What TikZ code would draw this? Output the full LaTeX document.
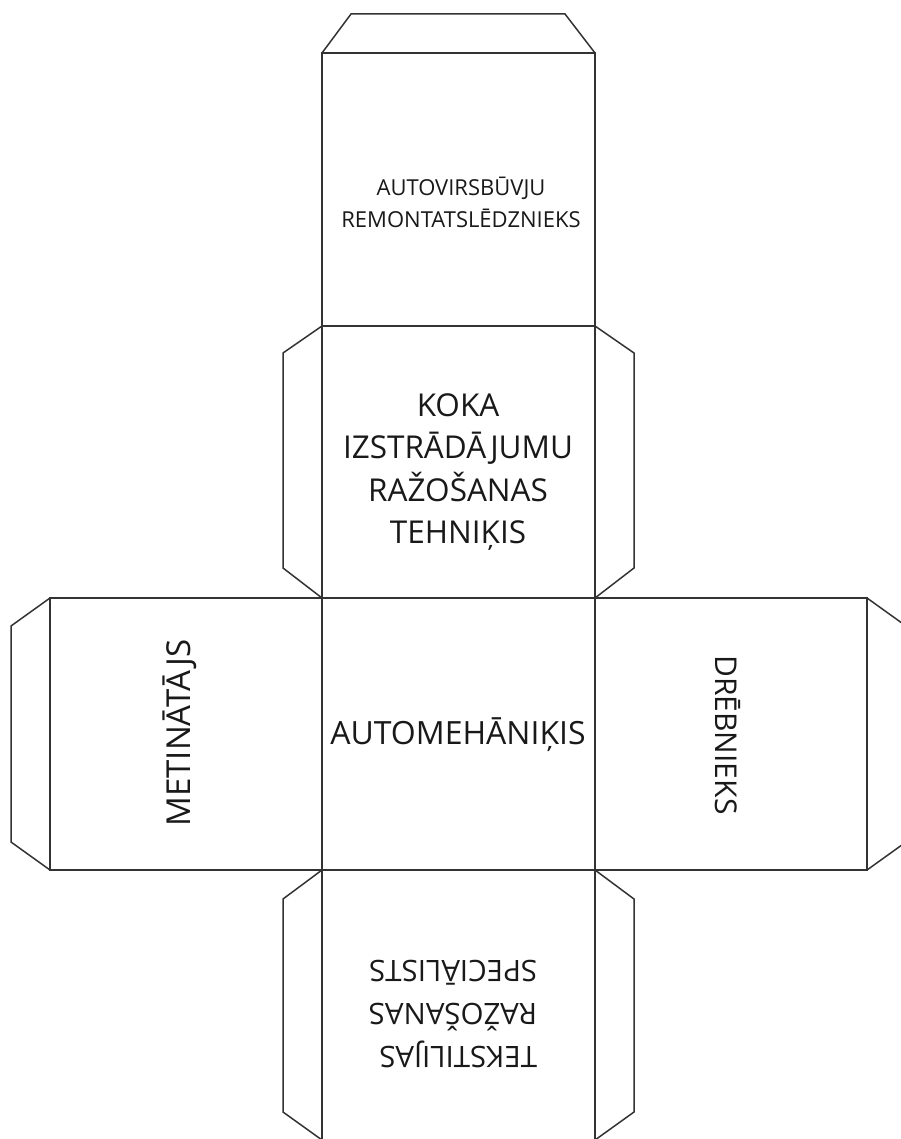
\documentclass[tikz,border=0pt]{standalone}
\usepackage{fontspec}
\setmainfont{Open Sans}
\begin{document}
\begin{tikzpicture}[x=1pt,y=-1pt,
  netline/.style={draw=black!80, line width=1.5pt, line join=miter},
  facetext/.style={inner sep=0pt, align=center, text=black!90}]
\useasboundingbox (0,0) rectangle (900,1139);
% faces
\draw[netline] (322,53) rectangle (595,326);
\draw[netline] (322,326) rectangle (595,598);
\draw[netline] (50,598) rectangle (867,870);
\draw[netline] (322,598) -- (322,870) (595,598) -- (595,870);
\draw[netline] (322,870) -- (322,1150) (595,870) -- (595,1150);
% tabs
\draw[netline] (322,53) -- (351,14) -- (565,14) -- (595,53);
\draw[netline] (322,326) -- (283,353) -- (283,568) -- (322,598);
\draw[netline] (595,326) -- (634,353) -- (634,568) -- (595,598);
\draw[netline] (50,598) -- (11,626) -- (11,842) -- (50,870);
\draw[netline] (867,598) -- (906,626) -- (906,842) -- (867,870);
\draw[netline] (322,870) -- (283,899) -- (283,1112) -- (322,1140);
\draw[netline] (595,870) -- (634,899) -- (634,1112) -- (595,1140);
% texts
\node[facetext, font=\fontsize{22}{32}\selectfont] (top) at (461,202) {AUTOVIRSBŪVJU\\REMONTATSLĒDZNIEKS};
\node[facetext, font=\fontsize{31.5}{42.5}\selectfont] (koka) at (458,472) {KOKA\\IZSTRĀDĀJUMU\\RAŽOŠANAS\\TEHNIĶIS};
\node[facetext, font=\fontsize{32}{34}\selectfont] (mid) at (458,735) {AUTOMEHĀNIĶIS};
\node[facetext, font=\fontsize{33}{34}\selectfont, rotate=90] (left) at (180,733) {METINĀTĀJS};
\node[facetext, font=\fontsize{30}{34}\selectfont, rotate=-90] (right) at (728,735) {DRĒBNIEKS};
\node[facetext, align=left, font=\fontsize{29.5}{43}\selectfont, rotate=180] (bottom) at (453,1014) {TEKSTILIJAS\\RAŽOŠANAS\\SPECIĀLISTS};
\end{tikzpicture}
\end{document}
